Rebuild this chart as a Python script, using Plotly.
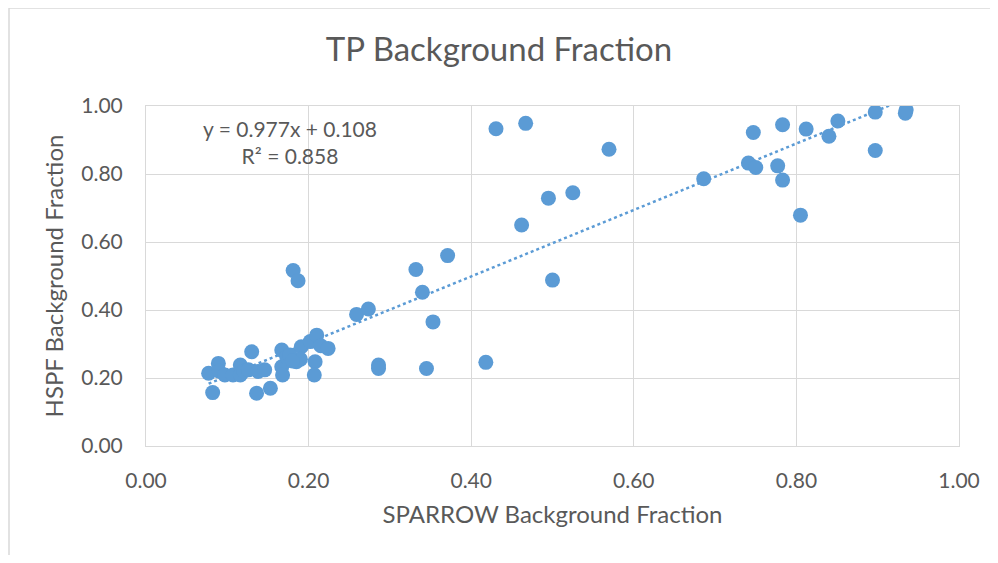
import plotly.graph_objects as go

# SPARROW vs HSPF background fraction
sparrow = [
    0.077, 0.082, 0.089, 0.090, 0.097, 0.107, 0.116, 0.116, 0.120, 0.126,
    0.130, 0.138, 0.146, 0.136, 0.153, 0.167, 0.167, 0.168, 0.173, 0.177,
    0.185, 0.191, 0.202, 0.210, 0.208, 0.207, 0.215, 0.224, 0.181, 0.187,
    0.190, 0.180,
    0.259, 0.2735, 0.286, 0.286, 0.345, 0.418, 0.332, 0.340, 0.353, 0.371,
    0.4305, 0.467, 0.462, 0.495, 0.500, 0.525, 0.5695,
    0.686, 0.741, 0.750, 0.747, 0.783, 0.777, 0.783, 0.805, 0.812, 0.840,
    0.851, 0.897, 0.897, 0.934, 0.935,
]
hspf = [
    0.214, 0.157, 0.243, 0.220, 0.209, 0.209, 0.238, 0.209, 0.220, 0.224,
    0.277, 0.219, 0.224, 0.155, 0.170, 0.282, 0.233, 0.209, 0.263, 0.268,
    0.248, 0.292, 0.307, 0.326, 0.248, 0.209, 0.295, 0.287, 0.516, 0.486,
    0.255, 0.250,
    0.387, 0.403, 0.238, 0.228, 0.228, 0.246, 0.519, 0.452, 0.365, 0.560,
    0.933, 0.949, 0.650, 0.729, 0.488, 0.745, 0.873,
    0.786, 0.832, 0.819, 0.922, 0.945, 0.824, 0.782, 0.679, 0.932, 0.911,
    0.956, 0.982, 0.869, 0.979, 0.988,
]

# linear trendline as displayed on the chart
slope = 0.977
intercept = 0.108
r_squared = 0.858

tick_vals = [0, 0.2, 0.4, 0.6, 0.8, 1.0]
tick_text = ["0.00", "0.20", "0.40", "0.60", "0.80", "1.00"]

blue = "#5B9BD5"
grey_text = "#595959"
grid = "#D9D9D9"
font = "Lato"

trend_x = [min(sparrow), max(sparrow)]
trend_y = [slope * v + intercept for v in trend_x]

fig = go.Figure()

fig.add_trace(
    go.Scatter(
        x=trend_x,
        y=trend_y,
        mode="lines",
        line=dict(color=blue, width=2.5, dash="dot"),
        hoverinfo="skip",
    )
)

fig.add_trace(
    go.Scatter(
        x=sparrow,
        y=hspf,
        mode="markers",
        marker=dict(color=blue, size=15),
    )
)

fig.add_annotation(
    x=0.177, y=0.894, xref="paper", yref="paper",
    xanchor="center", yanchor="middle",
    text=f"y = {slope}x + {intercept}<br>R² = {r_squared}",
    showarrow=False, align="center",
    font=dict(family=font, size=21, color=grey_text),
)

# chart-area border (only left and top edges are visible in the picture)
fig.add_shape(
    type="rect", xref="paper", yref="paper",
    x0=-0.1685, x1=1.2, y0=-0.6, y1=1.288,
    line=dict(color=grid, width=1.5),
)

axis_common = dict(
    range=[0, 1],
    tickvals=tick_vals,
    ticktext=tick_text,
    showgrid=True,
    gridcolor=grid,
    gridwidth=1,
    showline=True,
    linecolor=grid,
    mirror=True,
    zeroline=False,
    tickfont=dict(family=font, size=21, color=grey_text),
    fixedrange=True,
)

fig.update_layout(
    width=982,
    height=547,
    margin=dict(l=138, r=31, t=98, b=109, autoexpand=False),
    paper_bgcolor="white",
    plot_bgcolor="white",
    showlegend=False,
    title=dict(
        text="TP Background Fraction",
        x=0.5, xanchor="center", y=0.925, yanchor="middle",
        font=dict(family=font, size=33, color=grey_text),
    ),
    xaxis=dict(
        axis_common,
        ticklabelstandoff=16,
        title=dict(text="SPARROW Background Fraction", standoff=14,
                   font=dict(family=font, size=24, color=grey_text)),
    ),
    yaxis=dict(
        axis_common,
        ticklabelstandoff=18,
        title=dict(text="HSPF Background Fraction", standoff=10,
                   font=dict(family=font, size=24, color=grey_text)),
    ),
)

fig.write_html("out.html")
